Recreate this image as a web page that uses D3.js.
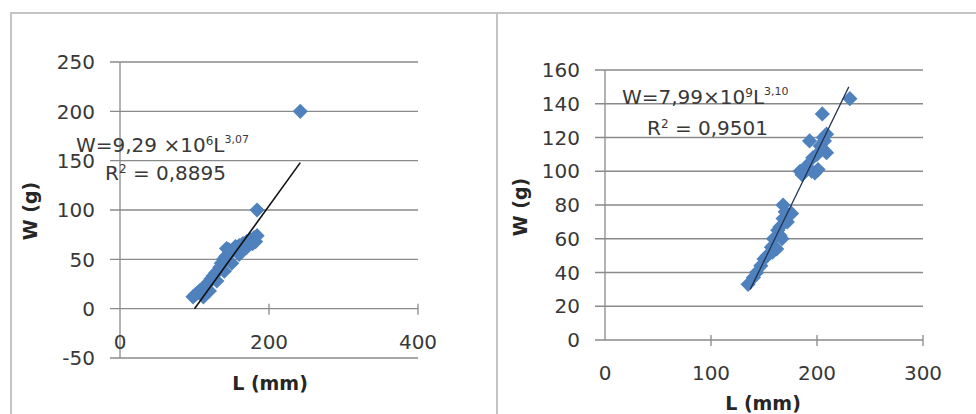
<!DOCTYPE html>
<html><head><meta charset="utf-8">
<script src="https://cdn.jsdelivr.net/npm/d3@7"></script>
<style>body{margin:0;background:#fff}svg{display:block}text{font-family:"DejaVu Sans",sans-serif}</style>
</head><body>
<svg id="c" width="976" height="414"></svg>
<script>
// ---- data ----
const leftL = [98,101,104,107,110,113,116,119,122,125,128,131,134,136,139,142,143,147,150,153,156,160,165,170,175,180,184,182,
               112,120,130,140,150,160,170,178,146,155,184,242];
const leftW = [12,14,16,18,20,22,24,27,30,33,36,38,42,46,50,53,61,56,58,60,62,64,66,68,70,72,74,68,
               12,18,28,38,46,55,62,66,60,63,100,200];
const leftTrendL = [100,242];
const leftTrendW = [0,148];
const leftXTicks = [0,200,400];
const leftYTicks = [-50,0,50,100,150,200,250];

const rightL = [135,140,143,150,153,157,159,162,165,167,165,168,168,172,176,184,190,193,195,198,200,203,205,206,209,209,231,
                158,163,170,196,201,207,147,186];
const rightW = [33,37,40,48,50,55,60,54,62,60,67,72,80,70,75,100,103,118,100,99,110,115,134,120,122,111,143,
                52,65,76,108,101,118,44,98];
const rightTrendL = [137,230];
const rightTrendW = [30,150];
const rightXTicks = [0,100,200,300];
const rightYTicks = [0,20,40,60,80,100,120,140,160];

const xTitle = "L (mm)";
const yTitle = "W (g)";

const svg = d3.select("#c");
const gridCol = "#8a8a8a", textCol = "#383838", ptCol = "#4f81bd";

// frame
svg.append("path").attr("d","M11,414V13H976M497,13V414").attr("fill","none")
  .attr("stroke","#c4c4c4").attr("stroke-width",2);

function panel(o){
  const g = svg.append("g");
  const x = d3.scaleLinear().domain(o.xd).range(o.xr);
  const y = d3.scaleLinear().domain(o.yd).range(o.yr);
  // gridlines
  g.selectAll(".gl").data(o.yTicks).join("line")
    .attr("x1",o.xr[0]-10).attr("x2",o.xr[1]).attr("y1",d=>y(d)).attr("y2",d=>y(d))
    .attr("stroke",gridCol).attr("stroke-width",1.3);
  // y axis line
  g.append("line").attr("x1",x(0)).attr("x2",x(0)).attr("y1",o.yr[0]).attr("y2",o.yr[1])
    .attr("stroke",gridCol).attr("stroke-width",1.3);
  // y tick labels
  g.selectAll(".yl").data(o.yTicks).join("text")
    .attr("x",o.ylabX).attr("y",d=>y(d)).attr("dy","0.36em").attr("text-anchor","end")
    .attr("font-size",20).attr("fill",textCol).text(d=>d);
  // x ticks on axis at y=0
  const y0 = y(0);
  g.selectAll(".xt").data(o.xTicks.filter(d=>d!==0)).join("line")
    .attr("x1",d=>x(d)).attr("x2",d=>x(d)).attr("y1",y0-5).attr("y2",y0+6)
    .attr("stroke",gridCol).attr("stroke-width",1.3);
  g.selectAll(".xl").data(o.xTicks).join("text")
    .attr("x",d=>x(d)).attr("y",o.xlabY).attr("dy","0.36em").attr("text-anchor","middle")
    .attr("font-size",20).attr("fill",textCol).text(d=>d);
  // points
  const pts = o.L.map((l,i)=>[l,o.W[i]]);
  g.selectAll(".pt").data(pts).join("path")
    .attr("d",d3.symbol(d3.symbolSquare,115))
    .attr("transform",d=>`translate(${x(d[0])},${y(d[1])}) rotate(45)`)
    .attr("fill",ptCol);
  // trendline
  g.append("line").attr("x1",x(o.tL[0])).attr("y1",y(o.tW[0])).attr("x2",x(o.tL[1])).attr("y2",y(o.tW[1]))
    .attr("stroke",o.tCol).attr("stroke-width",o.tW2);
  // axis titles
  g.append("text").attr("transform",`translate(${o.ytX},${o.ytY}) rotate(-90)`).attr("text-anchor","middle")
    .attr("dy","0.36em").attr("font-size",19).attr("font-weight","bold").attr("fill","#262626").text(yTitle);
  g.append("text").attr("x",o.xtX).attr("y",o.xtY).attr("dy","0.36em").attr("text-anchor","middle")
    .attr("font-size",19).attr("font-weight","bold").attr("fill","#262626").text(xTitle);
  // equation
  const e = g.append("text").attr("x",o.eqX).attr("y",o.eqY).attr("dy","0.36em").attr("font-size",20).attr("fill",textCol);
  e.append("tspan").text(o.eqA);
  e.append("tspan").attr("font-size",12).attr("dy","-0.6em").text(o.eqExp1);
  e.append("tspan").attr("font-size",20).attr("dy","0.36em").text("L");
  e.append("tspan").attr("font-size",11).attr("dy","-0.8em").text(o.eqExp2);
  const r = g.append("text").attr("x",o.rX).attr("y",o.rY).attr("dy","0.36em").attr("font-size",20).attr("fill",textCol);
  r.append("tspan").text("R");
  r.append("tspan").attr("font-size",12).attr("dy","-0.6em").text("2");
  r.append("tspan").attr("dy","0.36em").text(" = "+o.r2);
}

panel({xd:[0,400], xr:[120,418], yd:[-50,250], yr:[358,62], L:leftL, W:leftW,
  tL:leftTrendL, tW:leftTrendW, tCol:"#111", tW2:1.6,
  xTicks:leftXTicks, yTicks:leftYTicks, ylabX:95, xlabY:342,
  ytX:30, ytY:211, xtX:270, xtY:383,
  eqX:76, eqY:145, eqA:"W=9,29 ×10", eqExp1:"6", eqExp2:"3,07", rX:105, rY:173, r2:"0,8895"});

panel({xd:[0,300], xr:[605,923], yd:[0,160], yr:[340,70], L:rightL, W:rightW,
  tL:rightTrendL, tW:rightTrendW, tCol:"#1f3050", tW2:1.2,
  xTicks:rightXTicks, yTicks:rightYTicks, ylabX:580, xlabY:373,
  ytX:520, ytY:207, xtX:763, xtY:403,
  eqX:622, eqY:97, eqA:"W=7,99×10", eqExp1:"9", eqExp2:"3,10", rX:647, rY:128, r2:"0,9501"});
</script>
</body></html>
